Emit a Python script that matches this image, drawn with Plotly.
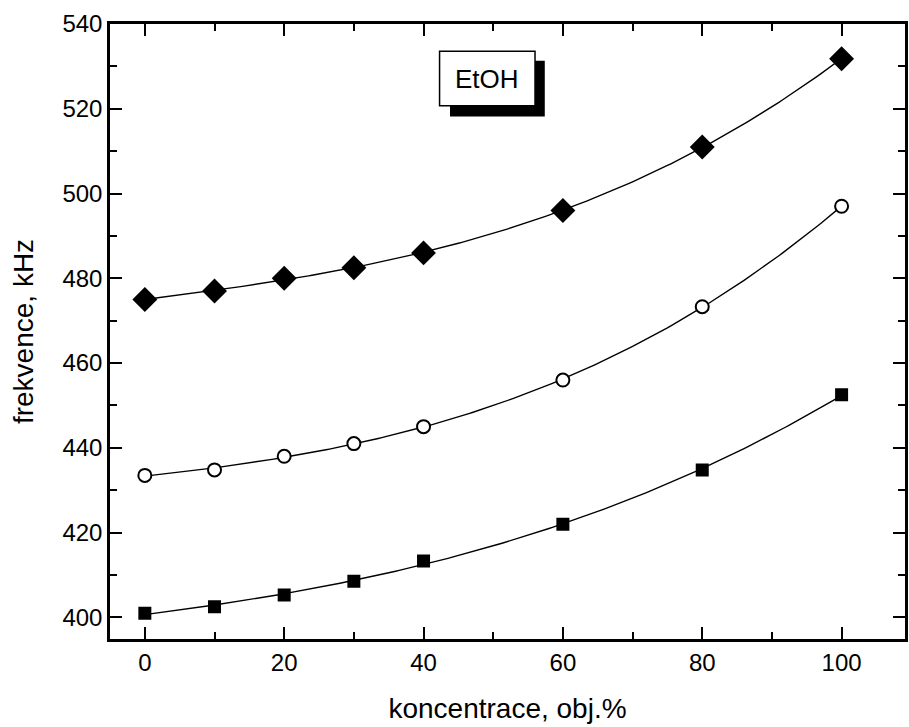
import numpy as np
import plotly.graph_objects as go

x_conc = [0, 10, 20, 30, 40, 60, 80, 100]
f_diamond = [475.0, 477.0, 480.0, 482.5, 486.0, 496.0, 511.0, 531.8]
f_circle = [433.5, 434.8, 438.0, 441.0, 445.0, 456.0, 473.3, 497.0]
f_square = [401.0, 402.5, 405.3, 408.5, 413.3, 422.0, 434.8, 452.5]

x_ticks = [0, 20, 40, 60, 80, 100]
y_ticks = [400, 420, 440, 460, 480, 500, 520, 540]
label_text = "EtOH"

FONT = "Liberation Sans, Arial"

fig = go.Figure()
xs = np.linspace(0, 100, 201)
series = [
    (f_diamond, "diamond", 17, "black", "black"),
    (f_circle, "circle", 13, "white", "black"),
    (f_square, "square", 11, "black", "black"),
]
for ys, sym, size, fill, edge in series:
    coef = np.polyfit(x_conc, ys, 3)
    fig.add_trace(go.Scatter(x=xs, y=np.polyval(coef, xs), mode="lines",
                             line=dict(color="black", width=1.4),
                             showlegend=False, hoverinfo="skip"))
    fig.add_trace(go.Scatter(x=x_conc, y=ys, mode="markers",
                             marker=dict(symbol=sym, size=size, color=fill,
                                         line=dict(color=edge, width=2)),
                             showlegend=False))

axis_common = dict(showgrid=False, zeroline=False, showline=True,
                   linecolor="black", linewidth=2.5, mirror="ticks",
                   ticks="inside", ticklen=12, tickwidth=2, tickcolor="black",
                   tickfont=dict(family=FONT, size=24, color="black"))

fig.update_xaxes(range=[-5, 109.1], tickvals=x_ticks,
                 minor=dict(ticks="inside", ticklen=7, tickwidth=2, dtick=10,
                            tick0=0, tickcolor="black"),
                 title=dict(text="koncentrace, obj.%", standoff=24,
                            font=dict(family=FONT, size=28, color="black")),
                 **axis_common)
fig.update_yaxes(range=[394.9, 540], tickvals=y_ticks,
                 minor=dict(ticks="inside", ticklen=7, tickwidth=2, dtick=10,
                            tick0=400, tickcolor="black"),
                 title=dict(text="frekvence, kHz", standoff=21,
                            font=dict(family=FONT, size=28, color="black")),
                 **axis_common)

# label box with shadow
fig.add_shape(type="rect", xref="x", yref="y", x0=43.8, x1=57.4, y0=518.2, y1=531.3,
              fillcolor="black", line=dict(color="black", width=0), layer="above")
fig.add_shape(type="rect", xref="x", yref="y", x0=42.3, x1=56.0, y0=520.7, y1=533.6,
              fillcolor="white", line=dict(color="black", width=1.5), layer="above")
fig.add_annotation(x=49.15, y=527.1, xref="x", yref="y", text=label_text,
                   showarrow=False,
                   font=dict(family=FONT, size=26, color="black"))

fig.update_layout(width=909, height=727, plot_bgcolor="white", paper_bgcolor="white",
                  margin=dict(l=110, r=1, t=24, b=88))
fig.write_html("out.html")
